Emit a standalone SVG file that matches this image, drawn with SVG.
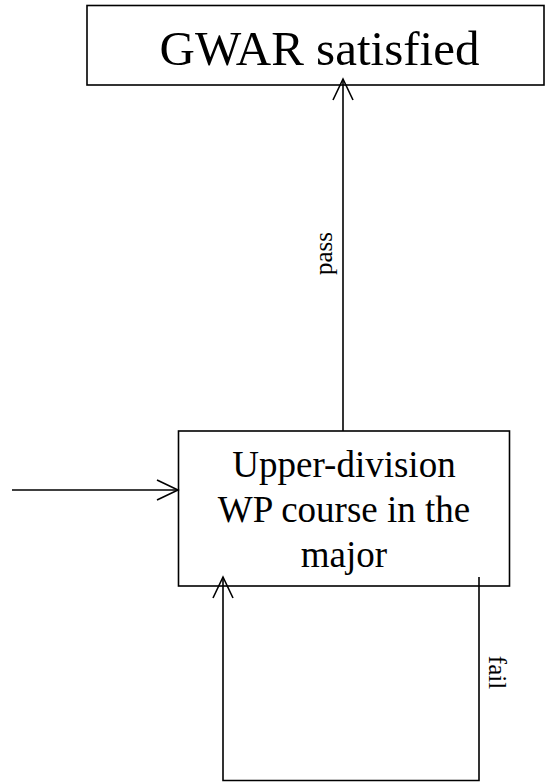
<svg xmlns="http://www.w3.org/2000/svg" width="545" height="782" viewBox="0 0 545 782">
<style>
.box{fill:#fff;stroke:#000;stroke-width:1.6}
.ln{fill:none;stroke:#000;stroke-width:1.6}
.t{font-family:"Liberation Serif","Times New Roman",serif;fill:#000;text-anchor:middle}
</style>
<defs>
<marker id="arr" viewBox="-22 -11 24 22" refX="0" refY="0" markerWidth="24" markerHeight="22" markerUnits="userSpaceOnUse" orient="auto">
<path d="M-21,-10 L0,0 L-21,10" fill="none" stroke="#000" stroke-width="1.6"/>
</marker>
</defs>
<rect width="545" height="782" fill="#fff"/>
<g id="gwar">
<rect class="box" x="87" y="5.5" width="457" height="79.5"/>
<text class="t" x="319.5" y="65" font-size="49">GWAR satisfied</text>
</g>
<g id="wp">
<rect class="box" x="178.5" y="431" width="331" height="155"/>
<text class="t" x="344" y="477" font-size="37">Upper-division</text>
<text class="t" x="344" y="522" font-size="37">WP course in the</text>
<text class="t" x="344" y="567" font-size="37">major</text>
</g>
<g id="connectors">
<line class="ln" x1="12" y1="490" x2="178" y2="490" marker-end="url(#arr)"/>
<line class="ln" x1="343" y1="431" x2="343" y2="79" marker-end="url(#arr)"/>
<text class="t" font-size="25" transform="translate(331.5,253.5) rotate(-90)">pass</text>
<polyline class="ln" points="479,577 479,780.5 223,780.5 223,577" marker-end="url(#arr)"/>
<text class="t" font-size="25" transform="translate(489,672.5) rotate(90)">fail</text>
</g>
</svg>
